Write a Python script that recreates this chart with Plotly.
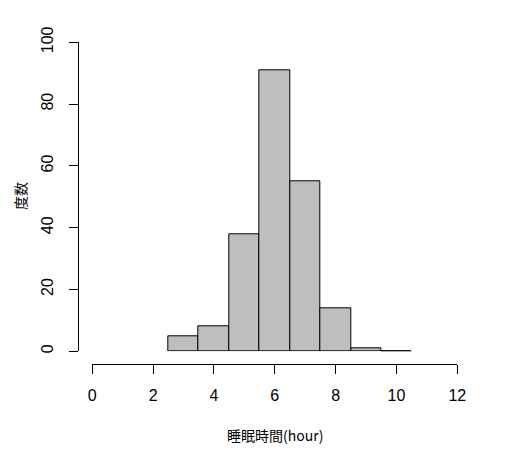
import plotly.graph_objects as go

# Data
bin_left = [2.5, 3.5, 4.5, 5.5, 6.5, 7.5, 8.5, 9.5]
bin_width = 1.0
counts = [5, 8, 38, 91, 55, 14, 1, 0]
x_ticks = [0, 2, 4, 6, 8, 10, 12]
y_ticks = [0, 20, 40, 60, 80, 100]
x_title = "睡眠時間(hour)"
y_title = "度数"

W, H = 512, 462
OFF = 8  # page body margin

def px_x(p):
    return (p - OFF) / W

def px_y(p):
    return 1 - (p - OFF) / H

centers = [l + bin_width / 2 for l in bin_left]

fig = go.Figure()
fig.add_trace(go.Bar(
    x=centers, y=counts, width=[bin_width] * len(counts),
    marker=dict(color="#BEBEBE", line=dict(color="black", width=1)),
    showlegend=False, hoverinfo="x+y",
))
# zero-count bins drawn as a flat outline (like R's hist)
for l, c in zip(bin_left, counts):
    if c == 0:
        fig.add_trace(go.Scatter(
            x=[l, l + bin_width], y=[c, c], mode="lines",
            line=dict(color="black", width=1), showlegend=False, hoverinfo="skip",
        ))

axis_common = dict(
    showgrid=False, zeroline=False, showline=True, linecolor="black", linewidth=1,
    ticks="outside", ticklen=9, tickwidth=1, tickcolor="black",
    tickfont=dict(family="Liberation Sans, Arial", size=16, color="black"),
    anchor="free", fixedrange=True, automargin=False,
)

fig.update_layout(
    width=W, height=H,
    margin=dict(l=0, r=0, t=0, b=0, autoexpand=False),
    paper_bgcolor="white", plot_bgcolor="white",
    bargap=0,
    xaxis=dict(
        domain=[px_x(92.3), px_x(457.3)], range=[0, 12],
        tickvals=x_ticks, ticktext=[str(v) for v in x_ticks],
        position=px_y(364), ticklabelstandoff=8, **axis_common,
    ),
    yaxis=dict(
        domain=[px_y(351.3), px_y(42.3)], range=[0, 100],
        tickvals=y_ticks, ticktext=[str(v) for v in y_ticks],
        tickangle=-90, position=px_x(78.3), ticklabelstandoff=10, **axis_common,
    ),
    annotations=[
        dict(text=x_title, x=px_x(274.8), y=px_y(435), xref="paper", yref="paper",
             showarrow=False, xanchor="center", yanchor="middle",
             font=dict(family="Noto Sans CJK JP", size=14, color="black")),
        dict(text=y_title, x=px_x(20), y=px_y(196), xref="paper", yref="paper",
             showarrow=False, xanchor="center", yanchor="middle", textangle=-90,
             font=dict(family="Noto Sans CJK JP", size=14, color="black")),
    ],
)

fig.write_html("out.html")
